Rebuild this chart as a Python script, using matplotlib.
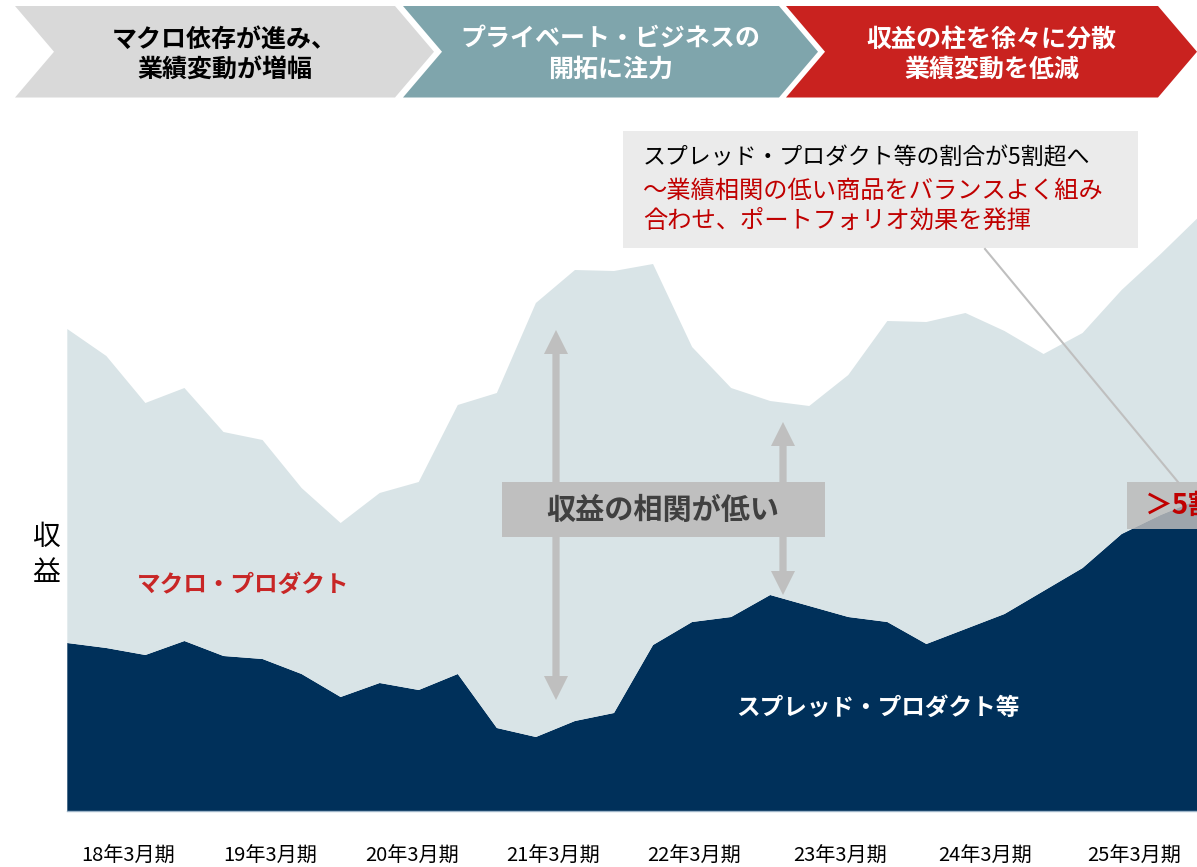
import matplotlib
matplotlib.use("Agg")
import matplotlib.pyplot as plt
from matplotlib.patches import Polygon, Rectangle

plt.rcParams["font.family"] = ["Noto Sans CJK JP", "DejaVu Sans"]

NAVY = "#00305a"
LIGHT = "#d9e4e7"
GRAY_MARK = "#bfbfbf"

# quarterly revenue (arbitrary units)
quarters = list(range(30))
spread = [168, 163, 156, 170, 155, 152, 137, 114, 128, 121, 137, 83, 74, 90, 98,
          166, 189, 194, 216, 205, 194, 189, 167, 182, 197, 220, 243, 277, 296, 312]
macro = [314, 292, 252, 253, 224, 219, 186, 174, 190, 208, 269, 335, 434, 451, 442,
         381, 275, 229, 194, 200, 242, 301, 322, 316, 283, 237, 235, 244, 261, 283]

tick_labels = ["18年3月期", "19年3月期", "20年3月期", "21年3月期",
               "22年3月期", "23年3月期", "24年3月期", "25年3月期"]
TICK_POS = [1.57, 5.19, 8.83, 12.45, 16.06, 19.78, 23.49, 27.31]

phases = [
    ("マクロ依存が進み、\n業績変動が増幅", "#d9d9d9", "black"),
    ("プライベート・ビジネスの\n開拓に注力", "#7fa5ac", "white"),
    ("収益の柱を徐々に分散\n業績変動を低減", "#c9221f", "white"),
]

W, H = 1197, 867
fig = plt.figure(figsize=(W / 100, H / 100), dpi=100)

# main stacked area chart
ax = fig.add_axes([67.3 / W, (H - 811) / H, (W - 67.3) / W, 701 / H])
ax.stackplot(quarters, spread, macro, colors=[NAVY, LIGHT], linewidth=0)
ax.set_xlim(0, (W - 67.3) / 39.05)
ax.set_ylim(0, 701)
for s in ["left", "top", "right"]:
    ax.spines[s].set_visible(False)
ax.spines["bottom"].set_color("#9db4c8")
ax.spines["bottom"].set_linewidth(1)
ax.set_yticks([])
ax.set_xticks(TICK_POS, labels=tick_labels)
ax.tick_params(axis="x", length=0, pad=25, labelsize=14.5, labelcolor="black")

# overlay in pixel coords for the annotations
ov = fig.add_axes([0, 0, 1, 1])
ov.set_xlim(0, W)
ov.set_ylim(H, 0)
ov.axis("off")
ov.patch.set_alpha(0)

# phase chevrons
chev = [(15, 395), (403, 779), (786, 1158)]
d, top, bot = 39, 6, 97.5
mid = (top + bot) / 2
for (x0, x1), (txt, fc, tc) in zip(chev, phases):
    pts = [(x0, top), (x1, top), (x1 + d, mid), (x1, bot), (x0, bot), (x0 + d, mid)]
    ov.add_patch(Polygon(pts, closed=True, facecolor=fc, edgecolor="none"))
    cx = (x0 + x1) / 2 + d / 2
    ov.text(cx, mid + 3, txt, ha="center", va="center", fontsize=18,
            weight="bold", color=tc, linespacing=1.3)


def double_arrow(x, ty, by, hw=12, hl=24, sw=3.6):
    pts = [(x, ty), (x + hw, ty + hl), (x + sw, ty + hl), (x + sw, by - hl),
           (x + hw, by - hl), (x, by), (x - hw, by - hl), (x - sw, by - hl),
           (x - sw, ty + hl), (x - hw, ty + hl)]
    ov.add_patch(Polygon(pts, closed=True, facecolor=GRAY_MARK, edgecolor="none"))


double_arrow(556, 330, 700)
double_arrow(783, 422, 595)

ov.add_patch(Rectangle((502, 482), 323, 55, facecolor=GRAY_MARK, edgecolor="none"))
ov.text(663, 510, "収益の相関が低い", ha="center", va="center", fontsize=21,
        weight="bold", color="#404040")

# callout box on the right
ov.add_patch(Rectangle((623, 131), 515, 116.5, facecolor="#ebebeb", edgecolor="none"))
ov.text(643, 158, "スプレッド・プロダクト等の割合が5割超へ", ha="left", va="center",
        fontsize=16.5, color="black")
ov.text(643, 191, "～業績相関の低い商品をバランスよく組み", ha="left", va="center",
        fontsize=17.5, color="#c00000", style="italic")
ov.text(643, 221, "合わせ、ポートフォリオ効果を発揮", ha="left", va="center",
        fontsize=17.5, color="#c00000", style="italic")
ov.plot([985, 1178], [249, 482], color=GRAY_MARK, lw=1.5)

ov.add_patch(Rectangle((1127, 482), 80, 47.3, facecolor="#bbbbbb", alpha=0.85,
                       edgecolor="none"))
ov.text(1145, 506, "＞5割超", ha="left", va="center", fontsize=20,
        weight="bold", color="#c00000")

# series labels
ov.text(46, 555, "収\n益", ha="center", va="center", fontsize=20,
        color="black", linespacing=1.3)
ov.text(243, 585, "マクロ・プロダクト", ha="center", va="center", fontsize=17,
        weight="bold", color="#c82626")
ov.text(878, 708, "スプレッド・プロダクト等", ha="center", va="center", fontsize=17,
        weight="bold", color="white")

fig.savefig("out.png", dpi=100)
plt.close(fig)
